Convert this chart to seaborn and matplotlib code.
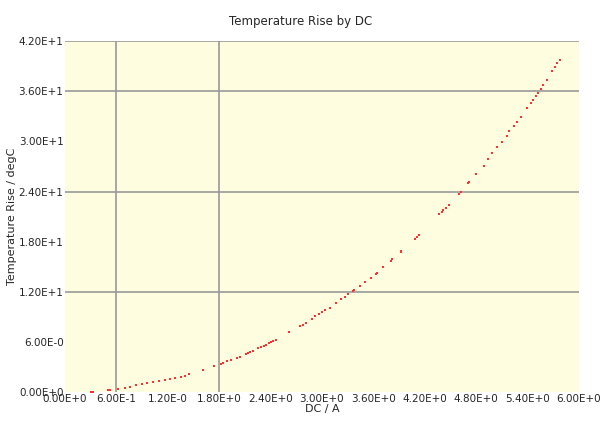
# Temperature rise vs DC current - recreation
import pandas as pd
import seaborn as sns
import matplotlib.pyplot as plt

dc_amps = [0.30, 0.33, 0.50, 0.53, 0.62, 0.70, 0.76, 0.83, 0.90, 0.96, 1.03, 1.10,
           1.17, 1.23, 1.29, 1.35, 1.40, 1.45, 1.61, 1.74, 1.82, 1.85, 1.89, 1.94,
           2.01, 2.04, 2.11, 2.14, 2.16, 2.20, 2.26, 2.29, 2.32, 2.35, 2.38, 2.41,
           2.43, 2.46, 2.62, 2.75, 2.78, 2.82, 2.89, 2.92, 2.97, 3.00, 3.04, 3.09,
           3.17, 3.22, 3.27, 3.31, 3.36, 3.38, 3.44, 3.50, 3.57, 3.63, 3.64, 3.72,
           3.81, 3.82, 3.92, 3.93, 4.09, 4.11, 4.13, 4.37, 4.40, 4.42, 4.45, 4.48,
           4.60, 4.62, 4.71, 4.72, 4.80, 4.89, 4.94, 4.99, 5.05, 5.10, 5.16, 5.19,
           5.24, 5.28, 5.32, 5.39, 5.44, 5.47, 5.50, 5.52, 5.56, 5.58, 5.63, 5.69,
           5.72, 5.75, 5.78]
temp_rise = [0.10, 0.11, 0.28, 0.30, 0.42, 0.56, 0.68, 0.84, 0.96, 1.08, 1.20, 1.32,
             1.44, 1.56, 1.68, 1.84, 2.00, 2.16, 2.68, 3.12, 3.44, 3.56, 3.72, 3.84,
             4.12, 4.28, 4.60, 4.72, 4.84, 5.00, 5.28, 5.40, 5.56, 5.72, 5.88, 6.04,
             6.16, 6.32, 7.20, 7.92, 8.04, 8.36, 8.76, 9.12, 9.40, 9.56, 9.84, 10.12,
             10.72, 11.12, 11.40, 11.72, 12.16, 12.28, 12.76, 13.16, 13.72, 14.16, 14.32, 15.04,
             15.76, 15.92, 16.76, 16.92, 18.36, 18.60, 18.84, 21.32, 21.60, 21.85, 22.10, 22.36,
             23.76, 23.96, 25.04, 25.20, 26.08, 27.12, 27.84, 28.56, 29.28, 29.88, 30.60, 31.20,
             31.80, 32.36, 32.92, 33.96, 34.56, 34.96, 35.40, 35.84, 36.24, 36.72, 37.32, 38.44,
             38.88, 39.32, 39.76]

x_ticks = [0.0, 0.6, 1.2, 1.8, 2.4, 3.0, 3.6, 4.2, 4.8, 5.4, 6.0]
x_labels = ["0.00E+0", "6.00E-1", "1.20E-0", "1.80E+0", "2.40E+0", "3.00E+0",
            "3.60E+0", "4.20E+0", "4.80E+0", "5.40E+0", "6.00E+0"]
y_ticks = [0, 6, 12, 18, 24, 30, 36, 42]
y_labels = ["0.00E+0", "6.00E-0", "1.20E+1", "1.80E+1", "2.40E+1", "3.00E+1",
            "3.60E+1", "4.20E+1"]
h_grid = [12, 24, 36, 42]
v_grid = [0.6, 1.8]

df = pd.DataFrame({"dc": dc_amps, "rise": temp_rise})

sns.set_style("white")
plt.rcParams['font.family'] = ['DejaVu Sans']

fig = plt.figure(figsize=(6.01, 4.21), dpi=100)
ax = fig.add_axes([0.108, 0.0677, 0.855, 0.835])
ax.set_facecolor("#FFFDE0")

for v in v_grid:
    ax.axvline(v, color="#9a9a9a", lw=1.2, zorder=1)
for h in h_grid:
    ax.axhline(h, color="#9a9a9a", lw=1.2, zorder=1)

sns.scatterplot(data=df, x="dc", y="rise", color="#ff3030", s=1.6,
                linewidth=0, marker="s", ax=ax, zorder=3)

ax.set_xlim(0, 6)
ax.set_ylim(0, 42)
ax.set_xticks(x_ticks)
ax.set_xticklabels(x_labels, fontsize=7.5)
ax.set_yticks(y_ticks)
ax.set_yticklabels(y_labels, fontsize=7.5)
ax.tick_params(length=0, pad=1)
for s in ax.spines.values():
    s.set_visible(False)

ax.set_xlabel("DC / A", fontsize=8, labelpad=0)
ax.set_ylabel("Temperature Rise / degC", fontsize=8, labelpad=1)
fig.suptitle("Temperature Rise by DC", fontsize=8.5, y=0.965)

plt.savefig("out.png", dpi=100)
